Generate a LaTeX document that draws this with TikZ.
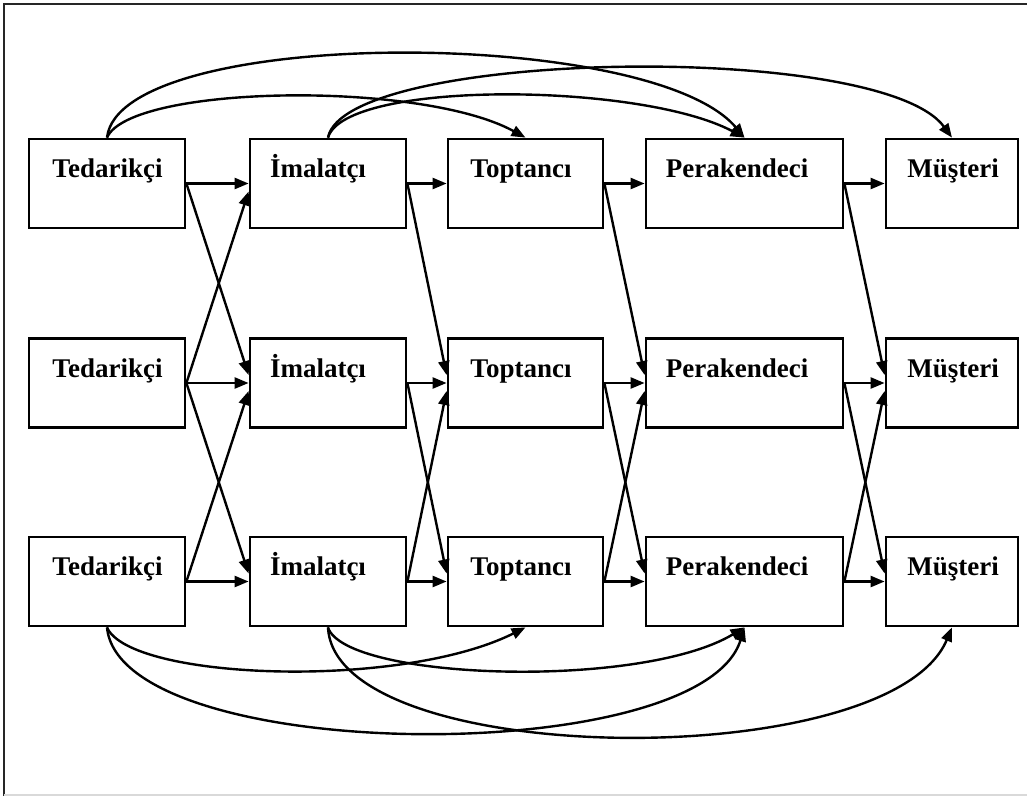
\documentclass[tikz,border=0pt]{standalone}
\usepackage{fontspec}
\setmainfont{Liberation Serif}
\usetikzlibrary{arrows.meta}

\tikzset{
  stage/.style={draw=black, line width=2.8pt, fill=white, rectangle, inner sep=0pt,
                minimum height=89pt},
  lbl/.style={font=\fontsize{27}{30}\selectfont\bfseries, text=black, inner sep=0pt, anchor=base},
  conn/.style={line width=2.4pt, -{Triangle[length=14pt,width=11pt]}},
  frameline/.style={line width=2.4pt, draw=black!85}
}

\begin{document}
\begin{tikzpicture}[x=1pt, y=-1pt]
  \useasboundingbox (0,0) rectangle (1027,796);
  % page frame
  \draw[frameline] (4,796) -- (4,4) -- (1027,4);
  \draw[line width=1.5pt, draw=black!15] (4,795) -- (1027,795);

  % stages: name / centre x / width / label x / label
  \foreach \n/\x/\w/\tx/\lab in {sup/107/156/107.5/Tedarikçi,
                                 man/328/156/318/İmalatçı,
                                 whl/525.5/155/521/Toptancı,
                                 ret/744.5/197/737/Perakendeci,
                                 cus/952/132/953/Müşteri}{
    \foreach \r/\y/\b in {1/183.5/177, 2/383/377, 3/581.5/575}{
      \node[stage, minimum width=\w pt] (\n\r) at (\x,\y) {};
      \node[lbl] (\n\r l) at (\tx,\b) {\lab};
    }
  }

  % straight flows between neighbouring stages
  \foreach \a/\b in {sup/man, man/whl, whl/ret, ret/cus}{
    \foreach \r in {1,2,3}{
      \draw[conn] (\a\r.east) -- (\b\r.west);
    }
    \draw[conn] (\a1.east) -- ([yshift=8pt]\b2.west);
    \draw[conn] (\a2.east) -- ([yshift=8pt]\b3.west);
    \draw[conn] (\a3.east) -- ([yshift=-8pt]\b2.west);
  }
  \draw[conn] (sup2.east) -- ([yshift=-8pt]man1.west);

  % bypass flows above the top row
  \draw[conn] (sup1.north) .. controls (120,26) and (650,26) .. (ret1.north);
  \draw[conn] (sup1.north) .. controls (130,85) and (420,80) .. (whl1.north);
  \draw[conn] (man1.north) .. controls (345,80) and (640,82) .. (ret1.north);
  \draw[conn] (man1.north) .. controls (345,50) and (880,40) .. (cus1.north);

  % bypass flows below the bottom row
  \draw[conn] (sup3.south) .. controls (130,680) and (400,690) .. (whl3.south);
  \draw[conn] (sup3.south) .. controls (120,765) and (700,770) .. (ret3.south);
  \draw[conn] (man3.south) .. controls (345,680) and (640,690) .. (ret3.south);
  \draw[conn] (man3.south) .. controls (335,770) and (890,775) .. (cus3.south);
\end{tikzpicture}
\end{document}
